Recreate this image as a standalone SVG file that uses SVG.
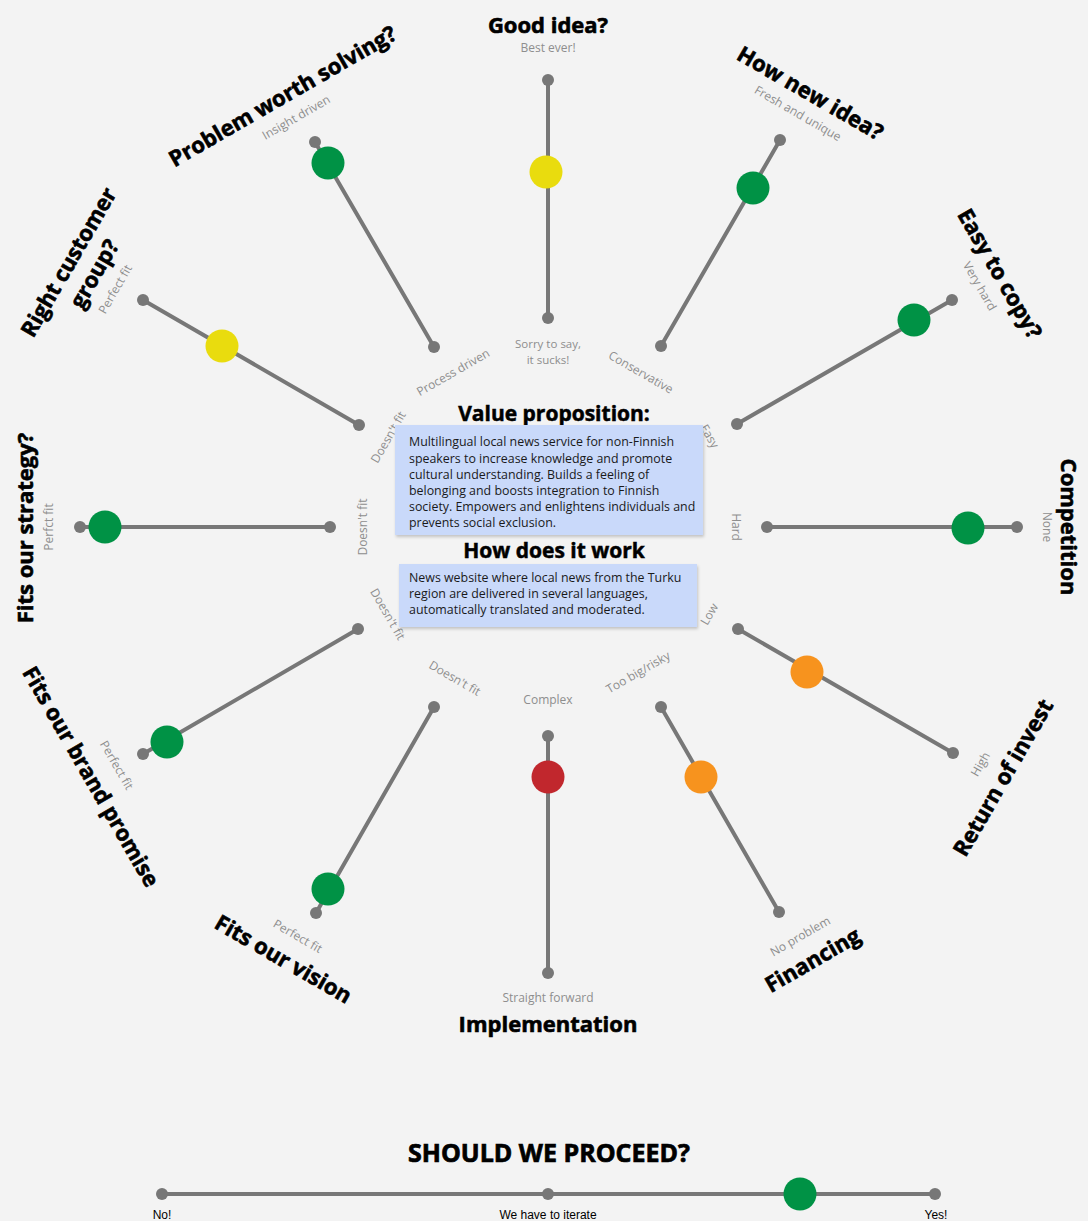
<svg xmlns="http://www.w3.org/2000/svg" width="1088" height="1221" viewBox="0 0 1088 1221">
  <style>
    .track { stroke: #777777; stroke-width: 4; stroke-linecap: round; }
    .end { fill: #777777; }
    .green { fill: #009245; }
    .yellow { fill: #e9dc0e; }
    .orange { fill: #f7931e; }
    .red { fill: #c1272d; }
    .q { font-family: "Open Sans", "Noto Sans", sans-serif; font-weight: 700; font-style: normal; font-size: 22px; fill: #000; stroke: #000; stroke-width: 0.6; text-anchor: middle; dominant-baseline: central; }
    .lbl { font-family: "Open Sans", "Noto Sans", sans-serif; font-weight: 400; font-size: 12px; fill: #8e8e8e; text-anchor: middle; dominant-baseline: central; }
    .lbl.small { font-size: 11.5px; }
    .head { font-family: "Open Sans", "Noto Sans", sans-serif; font-weight: 700; font-style: normal; font-size: 21px; fill: #000; stroke: #000; stroke-width: 0.5; text-anchor: middle; }
    .head.big { font-size: 25px; stroke-width: 0.7; }
    .body { font-family: "Open Sans", "Noto Sans", sans-serif; font-size: 12.4px; fill: #1a1a1a; }
    .box { fill: #c9d9fa; }
    .scale { font-family: "Liberation Sans", sans-serif; font-size: 12px; fill: #000; text-anchor: middle; }
  </style>
  <defs>
    <filter id="shadow" x="-5%" y="-10%" width="110%" height="125%">
      <feDropShadow dx="1" dy="2" stdDeviation="1.5" flood-color="#000" flood-opacity="0.2"/>
    </filter>
  </defs>

  <rect width="1088" height="1221" fill="#f3f3f3"/>

  <!-- twelve rating axes arranged around the centre -->
  <g id="connectors">
    <g id="axis-good-idea">
      <line class="track" x1="548" y1="80" x2="548" y2="318"/>
      <circle class="end" cx="548" cy="80" r="6"/>
      <circle class="end" cx="548" cy="318" r="6"/>
      <circle class="yellow" cx="546" cy="172" r="16.5"/>
      <text class="q" x="548" y="24">Good idea?</text>
      <text class="lbl" x="548" y="47">Best ever!</text>
      <text class="lbl small" x="548" y="343.5">Sorry to say,</text>
      <text class="lbl small" x="548" y="359.5">it sucks!</text>
    </g>

    <g id="axis-new-idea">
      <line class="track" x1="780" y1="140" x2="661" y2="346"/>
      <circle class="end" cx="780" cy="140" r="6"/>
      <circle class="end" cx="661" cy="346" r="6"/>
      <circle class="green" cx="753" cy="188" r="16.5"/>
      <text class="q" transform="translate(811,92) rotate(30)">How new idea?</text>
      <text class="lbl" transform="translate(798,113) rotate(30)">Fresh and unique</text>
      <text class="lbl" transform="translate(641,372) rotate(30)">Conservative</text>
    </g>

    <g id="axis-easy-to-copy">
      <line class="track" x1="952" y1="300" x2="737" y2="424"/>
      <circle class="end" cx="952" cy="300" r="6"/>
      <circle class="end" cx="737" cy="424" r="6"/>
      <circle class="green" cx="914" cy="320" r="16.5"/>
      <text class="q" transform="translate(1001,273) rotate(60)">Easy to copy?</text>
      <text class="lbl" transform="translate(980,286) rotate(60)">Very hard</text>
      <text class="lbl" transform="translate(710,436) rotate(60)">Easy</text>
    </g>

    <g id="axis-competition">
      <line class="track" x1="767" y1="527" x2="1017" y2="527"/>
      <circle class="end" cx="767" cy="527" r="6"/>
      <circle class="end" cx="1017" cy="527" r="6"/>
      <circle class="green" cx="968" cy="528" r="16.5"/>
      <text class="q" transform="translate(1070,527) rotate(90)">Competition</text>
      <text class="lbl" transform="translate(1047,527) rotate(90)">None</text>
      <text class="lbl" transform="translate(736,527) rotate(90)">Hard</text>
    </g>

    <g id="axis-return-of-invest">
      <line class="track" x1="738" y1="629" x2="953" y2="753"/>
      <circle class="end" cx="738" cy="629" r="6"/>
      <circle class="end" cx="953" cy="753" r="6"/>
      <circle class="orange" cx="807" cy="672" r="16.5"/>
      <text class="q" transform="translate(1002,777) rotate(-60)">Return of invest</text>
      <text class="lbl" transform="translate(980,764) rotate(-60)">High</text>
      <text class="lbl" transform="translate(709,614) rotate(-60)">Low</text>
    </g>

    <g id="axis-financing">
      <line class="track" x1="661" y1="707" x2="779" y2="912"/>
      <circle class="end" cx="661" cy="707" r="6"/>
      <circle class="end" cx="779" cy="912" r="6"/>
      <circle class="orange" cx="701" cy="777" r="16.5"/>
      <text class="q" transform="translate(812,959) rotate(-30)">Financing</text>
      <text class="lbl" transform="translate(800,936) rotate(-30)">No problem</text>
      <text class="lbl" transform="translate(638,672) rotate(-30)">Too big/risky</text>
    </g>

    <g id="axis-implementation">
      <line class="track" x1="548" y1="736" x2="548" y2="973"/>
      <circle class="end" cx="548" cy="736" r="6"/>
      <circle class="end" cx="548" cy="973" r="6"/>
      <circle class="red" cx="548" cy="777" r="16.5"/>
      <text class="q" x="548" y="1023">Implementation</text>
      <text class="lbl" x="548" y="997">Straight forward</text>
      <text class="lbl" x="548" y="699">Complex</text>
    </g>

    <g id="axis-vision">
      <line class="track" x1="434" y1="707" x2="316" y2="913"/>
      <circle class="end" cx="434" cy="707" r="6"/>
      <circle class="end" cx="316" cy="913" r="6"/>
      <circle class="green" cx="328" cy="889" r="16.5"/>
      <text class="q" transform="translate(284,958) rotate(30)">Fits our vision</text>
      <text class="lbl" transform="translate(298,936) rotate(30)">Perfect fit</text>
      <text class="lbl" transform="translate(455,678) rotate(30)">Doesn't fit</text>
    </g>

    <g id="axis-brand-promise">
      <line class="track" x1="358" y1="629" x2="143" y2="754"/>
      <circle class="end" cx="358" cy="629" r="6"/>
      <circle class="end" cx="143" cy="754" r="6"/>
      <circle class="green" cx="167" cy="742" r="16.5"/>
      <text class="q" transform="translate(92,776) rotate(60)">Fits our brand promise</text>
      <text class="lbl" transform="translate(117,765) rotate(60)">Perfect fit</text>
      <text class="lbl" transform="translate(388,614) rotate(60)">Doesn't fit</text>
    </g>

    <g id="axis-strategy">
      <line class="track" x1="80" y1="527" x2="330" y2="527"/>
      <circle class="end" cx="80" cy="527" r="6"/>
      <circle class="end" cx="330" cy="527" r="6"/>
      <circle class="green" cx="105" cy="527" r="16.5"/>
      <text class="q" transform="translate(24,528) rotate(-90)">Fits our strategy?</text>
      <text class="lbl" transform="translate(48,527) rotate(-90)">Perfct fit</text>
      <text class="lbl" transform="translate(362,527) rotate(-90)">Doesn't fit</text>
    </g>

    <g id="axis-customer-group">
      <line class="track" x1="143" y1="300" x2="359" y2="425"/>
      <circle class="end" cx="143" cy="300" r="6"/>
      <circle class="end" cx="359" cy="425" r="6"/>
      <circle class="yellow" cx="222" cy="346" r="16.5"/>
      <text class="q" transform="translate(81,266) rotate(-60)">
        <tspan x="0" y="-14">Right customer</tspan>
        <tspan x="0" y="14">group?</tspan>
      </text>
      <text class="lbl" transform="translate(115,289) rotate(-60)">Perfect fit</text>
      <text class="lbl" transform="translate(388,437) rotate(-60)">Doesn't fit</text>
    </g>

    <g id="axis-problem">
      <line class="track" x1="315" y1="142" x2="434" y2="347"/>
      <circle class="end" cx="315" cy="142" r="6"/>
      <circle class="end" cx="434" cy="347" r="6"/>
      <circle class="green" cx="328" cy="163" r="16.5"/>
      <text class="q" transform="translate(282,95) rotate(-30)">Problem worth solving?</text>
      <text class="lbl" transform="translate(296,117) rotate(-30)">Insight driven</text>
      <text class="lbl" transform="translate(453,372) rotate(-30)">Process driven</text>
    </g>
  </g>

  <!-- centre: value proposition and how it works -->
  <g id="value-proposition">
    <text class="head" x="554" y="421">Value proposition:</text>
    <rect class="box" x="395" y="425" width="308" height="110" filter="url(#shadow)"/>
    <text class="body">
      <tspan x="409" y="446">Multilingual local news service for non-Finnish</tspan>
      <tspan x="409" y="462.5">speakers to increase knowledge and promote</tspan>
      <tspan x="409" y="478.5">cultural understanding. Builds a feeling of</tspan>
      <tspan x="409" y="495">belonging and boosts integration to Finnish</tspan>
      <tspan x="409" y="511">society. Empowers and enlightens individuals and</tspan>
      <tspan x="409" y="527">prevents social exclusion.</tspan>
    </text>
  </g>

  <g id="how-it-works">
    <text class="head" x="554" y="558">How does it work</text>
    <rect class="box" x="399" y="564" width="298" height="63" filter="url(#shadow)"/>
    <text class="body">
      <tspan x="409" y="582">News website where local news from the Turku</tspan>
      <tspan x="409" y="598">region are delivered in several languages,</tspan>
      <tspan x="409" y="614">automatically translated and moderated.</tspan>
    </text>
  </g>

  <!-- overall verdict scale -->
  <g id="proceed">
    <text class="head big" x="549" y="1162">SHOULD WE PROCEED?</text>
    <line class="track" x1="162" y1="1194" x2="935" y2="1194"/>
    <circle class="end" cx="162" cy="1194" r="6"/>
    <circle class="end" cx="548" cy="1194" r="6"/>
    <circle class="end" cx="935" cy="1194" r="6"/>
    <circle class="green" cx="800" cy="1194" r="16.5"/>
    <text class="scale" x="162" y="1219">No!</text>
    <text class="scale" x="548" y="1219">We have to iterate</text>
    <text class="scale" x="936" y="1219">Yes!</text>
  </g>
</svg>
